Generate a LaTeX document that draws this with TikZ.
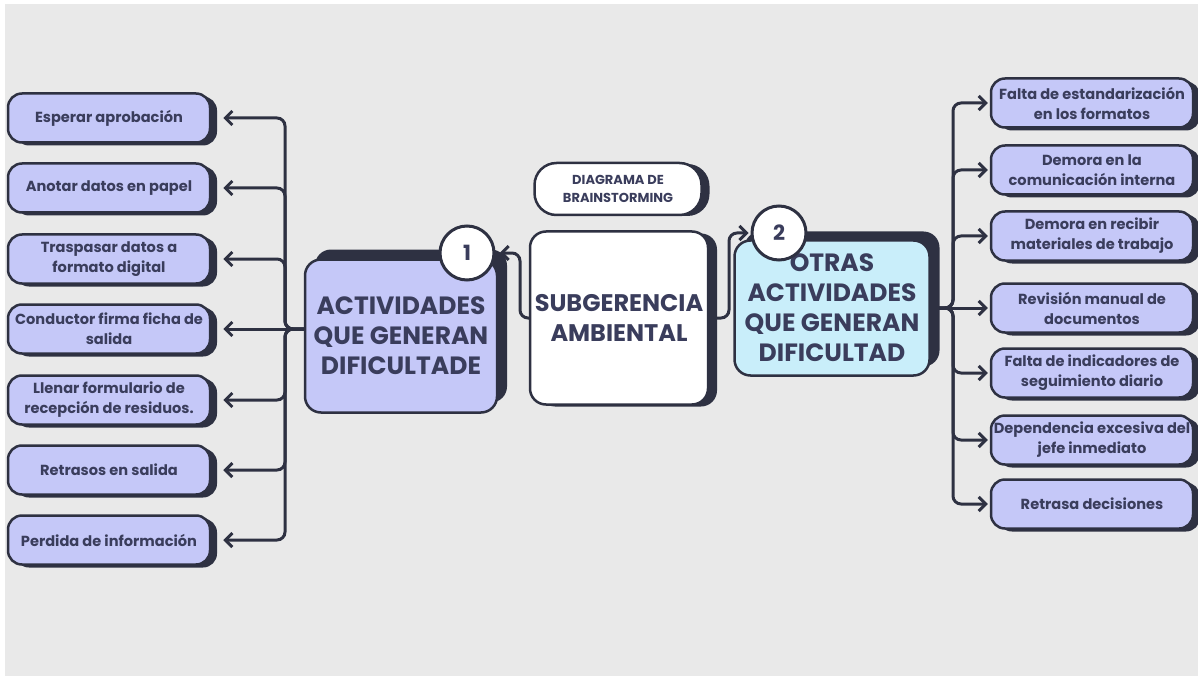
\documentclass[tikz,border=0pt]{standalone}
\usepackage{fontspec}
\setmainfont{Poppins}
\usepackage{tikz}
\usetikzlibrary{positioning}
\usetikzlibrary{arrows.meta}
\usetikzlibrary{shadows}
\definecolor{ink}{RGB}{46,49,66}
\definecolor{lav}{RGB}{197,200,248}
\definecolor{sky}{RGB}{201,238,250}
\definecolor{bg}{RGB}{233,233,233}
\definecolor{txt}{RGB}{58,61,92}

\begin{document}
\begin{tikzpicture}[x=1pt,y=-1pt,>={Straight Barb[length=7pt,width=14pt]},
leaf/.style={draw=ink,line width=2.5pt,fill=lav,rounded corners=14pt,minimum width=202pt,minimum height=49pt,align=center,text=txt,inner sep=1pt,
  font=\fontsize{14.6}{20}\selectfont\bfseries,drop shadow={shadow xshift=7pt,shadow yshift=-3pt,fill=ink,opacity=1}},
hub/.style={draw=ink,line width=2.5pt,rounded corners=16pt,align=center,text=txt,font=\fontsize{25}{30}\selectfont\bfseries},
num/.style={circle,draw=ink,line width=3pt,fill=white,minimum size=54pt,inner sep=0pt,text=txt,font=\fontsize{21}{21}\selectfont\bfseries},
link/.style={draw=ink,line width=3pt,rounded corners=8pt,->}]

\useasboundingbox (0,0) rectangle (1198,676);
\fill [white] (0,0) rectangle (1198,676);
\fill [bg] (5,4) rectangle (1198,676);

% left leaves
\node[leaf] (e1) at (109,118) {Esperar aprobación};
\node[leaf] (e2) at (109,188) {Anotar datos en papel};
\node[leaf] (e3) at (109,259) {Traspasar datos a\\formato digital};
\node[leaf] (e4) at (109,329) {Conductor firma ficha de\\salida};
\node[leaf] (e5) at (109,400) {Llenar formulario de\\recepción de residuos.};
\node[leaf] (e6) at (109,470) {Retrasos en salida};
\node[leaf] (e7) at (109,540) {Perdida de información};

% right leaves
\node[leaf] (r1) at (1092,103) {Falta de estandarización\\en los formatos};
\node[leaf] (r2) at (1092,170) {Demora en la\\comunicación interna};
\node[leaf] (r3) at (1092,236) {Demora en recibir\\materiales de trabajo};
\node[leaf] (r4) at (1092,308) {Revisión manual de\\documentos};
\node[leaf] (r5) at (1092,373) {Falta de indicadores de\\seguimiento diario};
\node[leaf] (r6) at (1092,440) {Dependencia excesiva del\\jefe inmediato};
\node[leaf] (r7) at (1092,504) {Retrasa decisiones};

% main boxes
\node[hub,fill=lav,minimum width=192pt,minimum height=153pt,drop shadow={shadow xshift=10pt,shadow yshift=10pt,fill=ink,opacity=1}] (act) at (401,336) {ACTIVIDADES\\QUE GENERAN\\DIFICULTADE};
\node[hub,fill=white,minimum width=178pt,minimum height=173pt,font=\fontsize{24}{30}\selectfont\bfseries,drop shadow={shadow xshift=9pt,shadow yshift=-2pt,fill=ink,opacity=1}] (sub) at (619,318) {SUBGERENCIA\\AMBIENTAL};
\node[hub,fill=sky,minimum width=195pt,minimum height=135pt,drop shadow={shadow xshift=10pt,shadow yshift=9pt,fill=ink,opacity=1}] (ob) at (832,308) {OTRAS\\ACTIVIDADES\\QUE GENERAN\\DIFICULTAD};
\node[hub,fill=white,rounded corners=22pt,minimum width=167pt,minimum height=52pt,font=\fontsize{13}{18}\selectfont\bfseries,drop shadow={shadow xshift=8pt,shadow yshift=-1pt,fill=ink,opacity=1}] (dg) at (618,189) {DIAGRAMA DE\\BRAINSTORMING};

\node[num] (c1) at (467,253) {1};
\node[num] (c2) at (779,233) {2};

% connectors
\coordinate (tl) at (285,0);
\coordinate (tr) at (953,0);
\coordinate (kl) at (520,0);
\coordinate (kr) at (729,0);
\coordinate (actin) at (act.west |- e4.east);
\coordinate (obout) at (ob.east |- r4.west);

\draw[link,shorten >=12pt] (actin) -- (e4.east);
\draw[link,shorten >=12pt] (actin) -- (actin -| tl) |- (e1.east);
\draw[link,shorten >=12pt] (actin) -- (actin -| tl) |- (e2.east);
\draw[link,shorten >=12pt] (actin) -- (actin -| tl) |- (e3.east);
\draw[link,shorten >=12pt] (actin) -- (actin -| tl) |- (e5.east);
\draw[link,shorten >=12pt] (actin) -- (actin -| tl) |- (e6.east);
\draw[link,shorten >=12pt] (actin) -- (actin -| tl) |- (e7.east);

\draw[link,shorten >=2pt] (obout) -- (r4.west);
\draw[link,shorten >=2pt] (obout) -- (obout -| tr) |- (r1.west);
\draw[link,shorten >=2pt] (obout) -- (obout -| tr) |- (r2.west);
\draw[link,shorten >=2pt] (obout) -- (obout -| tr) |- (r3.west);
\draw[link,shorten >=2pt] (obout) -- (obout -| tr) |- (r5.west);
\draw[link,shorten >=2pt] (obout) -- (obout -| tr) |- (r6.west);
\draw[link,shorten >=2pt] (obout) -- (obout -| tr) |- (r7.west);

\draw[link,shorten >=4pt] (sub.west) -- (sub.west -| kl) |- (c1.east);
\draw[link,shorten >=2pt] (sub.east) -- (sub.east -| kr) |- (c2.west);
\end{tikzpicture}
\end{document}
